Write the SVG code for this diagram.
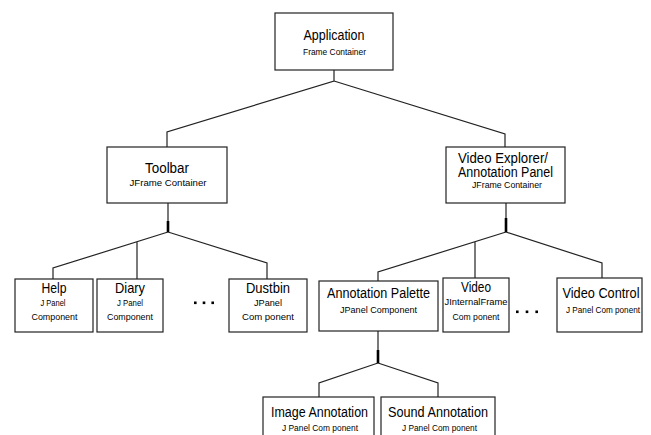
<svg xmlns="http://www.w3.org/2000/svg" width="651" height="435" viewBox="0 0 651 435">
<style>
.box{fill:#fff;stroke:#222;stroke-width:1.2}
.ln{fill:none;stroke:#222;stroke-width:1.2}
.thick{fill:none;stroke:#000;stroke-width:2.6}
text{font-family:"Liberation Sans",Arial,sans-serif;fill:#000;text-anchor:middle}
.t{font-size:14px}
.t15{font-size:15px}
.s{font-size:8.5px}
.dot{fill:#000}
</style>
<rect width="651" height="435" fill="#fff"/>
<g id="connectors">
<path class="ln" d="M334,70 V81 L167,132 V147 M334,81 L505,134 V147"/>
<path class="ln" d="M168,203 V222 M168,232 L53,268 V279 M168,232 L267,263 V279 M137,241.7 V279"/>
<path class="thick" d="M168,221 V232"/>
<path class="ln" d="M506,190 V219 M506,232 L378,272 V281 M506,232 L602,263 V278 M475,241.7 V278"/>
<path class="thick" d="M506,218 V232"/>
<path class="ln" d="M378,331 V351 M378,363 L319,383 V397 M378,363 L438,383 V397"/>
<path class="thick" d="M378,350 V363"/>
</g>
<g id="application">
<rect class="box" x="275" y="13" width="118" height="57"/>
<text class="t" x="334" y="40" textLength="61" lengthAdjust="spacingAndGlyphs">Application</text>
<text class="s" x="334.5" y="54.5" textLength="63" lengthAdjust="spacingAndGlyphs">Frame Container</text>
</g>
<g id="toolbar">
<rect class="box" x="107" y="147" width="120" height="56"/>
<text class="t" x="167" y="173" textLength="44" lengthAdjust="spacingAndGlyphs">Toolbar</text>
<text class="s" x="168" y="186" textLength="77" lengthAdjust="spacingAndGlyphs">JFrame Container</text>
</g>
<g id="video-explorer">
<rect class="box" x="446" y="147" width="119" height="56"/>
<text class="t" x="503" y="162.5" textLength="90" lengthAdjust="spacingAndGlyphs">Video Explorer/</text>
<text class="t" x="505.5" y="177" textLength="95" lengthAdjust="spacingAndGlyphs">Annotation Panel</text>
<text class="s" x="507" y="188" textLength="70" lengthAdjust="spacingAndGlyphs">JFrame Container</text>
</g>
<g id="help">
<rect class="box" x="15" y="279" width="78" height="53"/>
<text class="t15" x="54" y="293" textLength="25" lengthAdjust="spacingAndGlyphs">Help</text>
<text class="s" x="53" y="306" textLength="25" lengthAdjust="spacingAndGlyphs">J Panel</text>
<text class="s" x="54.5" y="320" textLength="46" lengthAdjust="spacingAndGlyphs">Component</text>
</g>
<g id="diary">
<rect class="box" x="97" y="279" width="66" height="53"/>
<text class="t15" x="130" y="293" textLength="30" lengthAdjust="spacingAndGlyphs">Diary</text>
<text class="s" x="130" y="306" textLength="26" lengthAdjust="spacingAndGlyphs">J Panel</text>
<text class="s" x="130" y="320" textLength="46" lengthAdjust="spacingAndGlyphs">Component</text>
</g>
<g id="ellipsis-left">
<rect class="dot" x="194" y="301.5" width="2.6" height="2.6"/>
<rect class="dot" x="202.7" y="301.5" width="2.6" height="2.6"/>
<rect class="dot" x="211.4" y="301.5" width="2.6" height="2.6"/>
</g>
<g id="dustbin">
<rect class="box" x="229" y="279" width="78" height="53"/>
<text class="t15" x="268" y="293" textLength="44" lengthAdjust="spacingAndGlyphs">Dustbin</text>
<text class="s" x="268" y="306" textLength="28" lengthAdjust="spacingAndGlyphs">JPanel</text>
<text class="s" x="268" y="320" textLength="52" lengthAdjust="spacingAndGlyphs">Com ponent</text>
</g>
<g id="annotation-palette">
<rect class="box" x="319" y="281" width="119" height="50"/>
<text class="t" x="378.5" y="298" textLength="103" lengthAdjust="spacingAndGlyphs">Annotation Palette</text>
<text class="s" x="378.5" y="313" textLength="77" lengthAdjust="spacingAndGlyphs">JPanel Component</text>
</g>
<g id="video">
<rect class="box" x="443" y="278" width="66" height="54"/>
<text class="t" x="476" y="292" textLength="30" lengthAdjust="spacingAndGlyphs">Video</text>
<text class="s" x="476" y="305" textLength="63" lengthAdjust="spacingAndGlyphs">JInternalFrame</text>
<text class="s" x="476" y="320" textLength="47" lengthAdjust="spacingAndGlyphs">Com ponent</text>
</g>
<g id="ellipsis-right">
<rect class="dot" x="516" y="310.5" width="2.6" height="2.6"/>
<rect class="dot" x="525.7" y="310.5" width="2.6" height="2.6"/>
<rect class="dot" x="535.4" y="310.5" width="2.6" height="2.6"/>
</g>
<g id="video-control">
<rect class="box" x="557" y="278" width="85" height="54"/>
<text class="t" x="601" y="298" textLength="77" lengthAdjust="spacingAndGlyphs">Video Control</text>
<text class="s" x="603" y="313" textLength="74" lengthAdjust="spacingAndGlyphs">J Panel Com ponent</text>
</g>
<g id="image-annotation">
<rect class="box" x="263" y="397" width="111" height="45"/>
<text class="t" x="319.5" y="417" textLength="97" lengthAdjust="spacingAndGlyphs">Image Annotation</text>
<text class="s" x="320" y="431" textLength="76" lengthAdjust="spacingAndGlyphs">J Panel Com ponent</text>
</g>
<g id="sound-annotation">
<rect class="box" x="381" y="397" width="114" height="45"/>
<text class="t" x="438" y="417" textLength="100" lengthAdjust="spacingAndGlyphs">Sound Annotation</text>
<text class="s" x="439.5" y="431" textLength="75" lengthAdjust="spacingAndGlyphs">J Panel Com ponent</text>
</g>
</svg>
